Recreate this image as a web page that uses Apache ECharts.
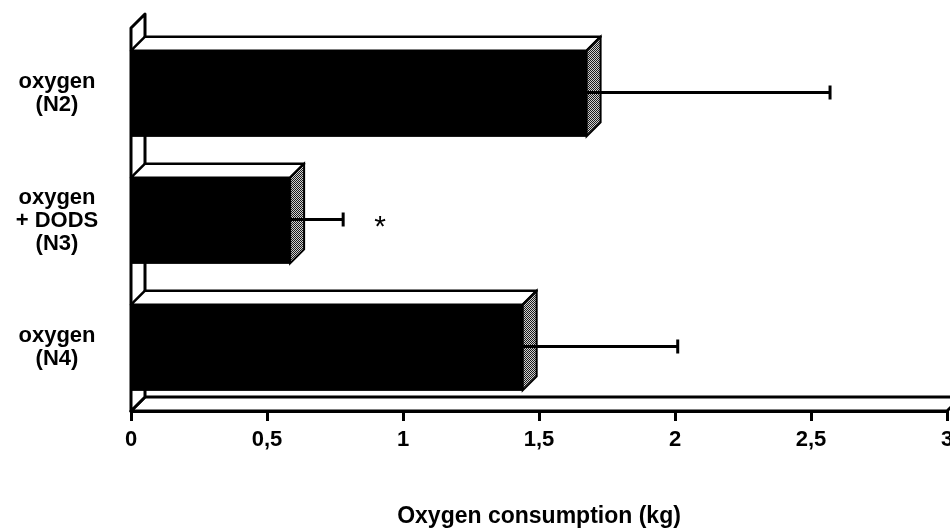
<!DOCTYPE html>
<html>
<head>
<meta charset="utf-8">
<script src="https://cdn.jsdelivr.net/npm/echarts@6/dist/echarts.min.js"></script>
<style>
html,body{margin:0;padding:0;background:#fff;}
#chart{width:950px;height:529px;}
</style>
</head>
<body>
<div id="chart"></div>
<script>
// ---- data ----
var categories = ['oxygen\n(N2)', 'oxygen\n+ DODS\n(N3)', 'oxygen\n(N4)'];
var means = [1.675, 0.585, 1.44];
var errors = [0.895, 0.195, 0.57];
var signif = ['', '*', ''];
var xMin = 0, xMax = 3, xStep = 0.5;
var axisTitle = 'Oxygen consumption (kg)';

// ---- styling helpers ----
var FONT = '"Liberation Sans", Arial, Helvetica, sans-serif';
var DEPTH = 14;
var pat = document.createElement('canvas');
pat.width = 2; pat.height = 2;
var pctx = pat.getContext('2d');
pctx.fillStyle = '#d0d0d0'; pctx.fillRect(0, 0, 2, 2);
pctx.fillStyle = '#1a1a1a'; pctx.fillRect(0, 0, 1, 1); pctx.fillRect(1, 1, 1, 1);

var chart = echarts.init(document.getElementById('chart'), null, {renderer: 'canvas'});

var barData = means.map(function (v, i) { return [v, i]; });
var errData = means.map(function (v, i) { return [v, i, errors[i]]; });

var option = {
  animation: false,
  backgroundColor: '#fff',
  grid: {left: 131, right: 3, top: 30, bottom: 118, containLabel: false, outerBoundsMode: 'none'},
  xAxis: {
    type: 'value', min: xMin, max: xMax, interval: xStep,
    name: axisTitle, nameLocation: 'middle', nameGap: 94,
    nameTextStyle: {fontFamily: FONT, fontWeight: 'bold', fontSize: 23, color: '#000'},
    axisLine: {show: true, lineStyle: {color: '#000', width: 3}},
    axisTick: {show: true, length: 10, lineStyle: {color: '#000', width: 3}},
    axisLabel: {
      margin: 18, fontFamily: FONT, fontWeight: 'bold', fontSize: 22, color: '#000',
      hideOverlap: false, showMaxLabel: true,
      formatter: function (v) { return String(v).replace('.', ','); }
    },
    splitLine: {show: false}
  },
  yAxis: {
    type: 'category', inverse: true, data: categories,
    axisLine: {show: false}, axisTick: {show: false},
    axisLabel: {
      margin: 74, align: 'center', fontFamily: FONT, fontWeight: 'bold',
      fontSize: 22, lineHeight: 23, color: '#000'
    }
  },
  series: [
    {
      // back wall and floor
      type: 'custom', z: 1, silent: true,
      data: [[0, 0]],
      renderItem: function (params, api) {
        var cs = params.coordSys;
        var x0 = cs.x, x1 = cs.x + cs.width, yT = cs.y - 2, yB = cs.y + cs.height;
        var d = DEPTH;
        var st = {fill: '#fff', stroke: '#000', lineWidth: 3, lineJoin: 'round'};
        return {
          type: 'group', children: [
            {type: 'polygon', shape: {points: [[x0, yB], [x1, yB], [x1 + d, yB - d], [x0 + d, yB - d]]}, style: st},
            {type: 'polygon', shape: {points: [[x0, yB], [x0, yT], [x0 + d, yT - d], [x0 + d, yB - d]]}, style: st}
          ]
        };
      }
    },
    {
      // 3D bars
      type: 'custom', z: 2, silent: true,
      data: barData,
      encode: {x: 0, y: 1},
      renderItem: function (params, api) {
        var idx = api.value(1);
        var c0 = api.coord([0, idx]);
        var c1 = api.coord([api.value(0), idx]);
        var band = api.size([0, 1])[1];
        var h = band * 0.675;
        var d = DEPTH;
        var x0 = c0[0], x1 = c1[0], yt = c0[1] - h / 2, yb = yt + h;
        return {
          type: 'group', children: [
            {type: 'polygon', shape: {points: [[x0, yt], [x0 + d, yt - d], [x1 + d, yt - d], [x1, yt]]},
              style: {fill: '#fff', stroke: '#000', lineWidth: 2.5, lineJoin: 'round'}},
            {type: 'polygon', shape: {points: [[x1, yt], [x1 + d, yt - d], [x1 + d, yb - d], [x1, yb]]},
              style: {fill: {image: pat, repeat: 'repeat'}, stroke: '#000', lineWidth: 2}},
            {type: 'rect', shape: {x: x0, y: yt, width: x1 - x0, height: h},
              style: {fill: '#000', stroke: '#000', lineWidth: 1}}
          ]
        };
      }
    },
    {
      // error bars
      type: 'custom', z: 3, silent: true,
      data: errData,
      encode: {x: 0, y: 1},
      renderItem: function (params, api) {
        var idx = api.value(1);
        var m = api.value(0), e = api.value(2);
        var c1 = api.coord([m, idx]);
        var c2 = api.coord([m + e, idx]);
        var y = c1[1] - 1;
        var ls = {stroke: '#000', lineWidth: 3};
        var children = [
          {type: 'line', shape: {x1: c1[0], y1: y, x2: c2[0], y2: y}, style: ls},
          {type: 'line', shape: {x1: c2[0], y1: y - 7, x2: c2[0], y2: y + 7}, style: ls}
        ];
        var s = signif[params.dataIndex];
        if (s) {
          children.push({type: 'text', x: c2[0] + 37, y: y + 8,
            style: {text: s, fill: '#000', font: 'normal 30px ' + FONT, align: 'center', verticalAlign: 'middle'}});
        }
        return {type: 'group', children: children};
      }
    }
  ]
};
chart.setOption(option);
</script>
</body>
</html>
